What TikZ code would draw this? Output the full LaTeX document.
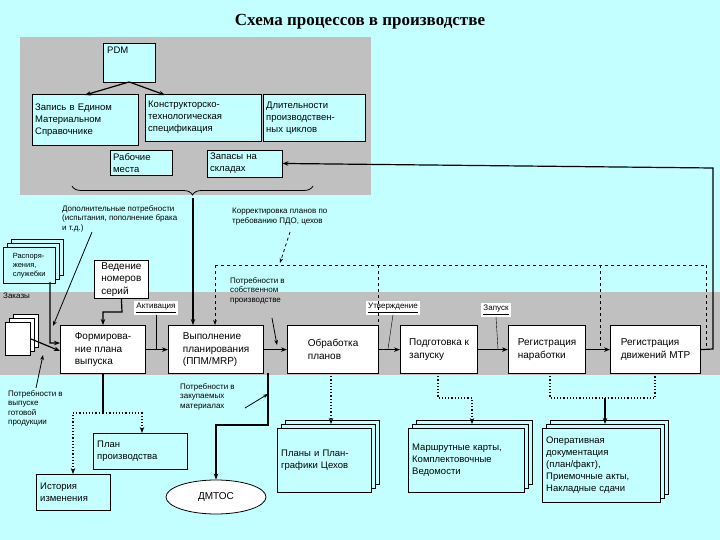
\documentclass[tikz,border=0pt]{standalone}
\usepackage{fontspec}
\setmainfont{Liberation Serif}
\newfontfamily\lblfont{Liberation Sans}
\usetikzlibrary{shapes.geometric,shadows,decorations.pathreplacing,arrows.meta}
\definecolor{cyanbg}{HTML}{C4FFFF}
\definecolor{panel}{HTML}{C0C0C0}
\tikzset{
  tbox/.style={draw, fill=cyanbg, align=left, inner sep=3pt, anchor=north west, font=\lblfont\fontsize{9.5}{12}\selectfont},
  wbox/.style={draw, very thick, fill=white, align=left, inner sep=4pt, anchor=north west, font=\lblfont\fontsize{10}{12.5}\selectfont},
  docs/.style={tbox, double copy shadow={shadow xshift=4pt, shadow yshift=4pt}},
  lbl/.style={align=left, inner sep=0pt, anchor=north west, font=\lblfont\fontsize{8}{9.5}\selectfont},
  flow/.style={very thick, -{Stealth[length=6pt]}},
  dflow/.style={very thick, dotted, -{Stealth[length=6pt]}},
  tag/.style={fill=white, inner sep=2pt, font=\lblfont\fontsize{8}{9.5}\selectfont}
}
\begin{document}
\begin{tikzpicture}[x=1pt, y=-1pt]
  \fill[cyanbg] (0,0) rectangle (720,540);
  \useasboundingbox (0,0) rectangle (720,540);
  \fill[panel] (20,37) rectangle (371,195);
  \fill[panel] (0,292) rectangle (720,375);
  \node[font=\bfseries\fontsize{17}{20}\selectfont] (title) at (360,22) {Схема процессов в производстве};

  % master data
  \node[tbox, text width=44pt, inner sep=4pt, text depth=24pt] (pdm) at (103,43) {PDM};
  \node[tbox, text width=100pt, minimum height=51pt] (zap) at (32,94) {Запись в Едином\\Материальном\\Справочнике};
  \node[tbox, text width=110pt, minimum height=47pt] (kts) at (145,94) {Конструкторско-\\технологическая\\спецификация};
  \node[tbox, text width=96pt, minimum height=47pt] (dlit) at (263,94) {Длительности\\производствен-\\ных циклов};
  \node[tbox, text width=56pt] (rab) at (110,150) {Рабочие\\места};
  \node[tbox, text width=69pt] (skl) at (207,150) {Запасы на\\складах};
  \draw[flow] (pdm.south) -- (85,95);
  \draw[flow] (pdm.south) -- (165,95);
  \draw[decorate, decoration={brace, amplitude=9pt, mirror}, thick] (72,186) -- (313,186);
  \coordinate (tip) at (193,198);

  % plan line
  \node[wbox, minimum width=85pt, minimum height=48pt] (form) at (60,325) {Формирова-\\ние плана\\выпуска};
  \node[wbox, minimum width=95pt, minimum height=48pt] (vyp) at (168,325) {Выполнение\\планирования\\(ППМ/MRP)};
  \node[wbox, minimum width=91pt, minimum height=48pt] (obr) at (287,325) {Обработка\\планов};
  \node[wbox, minimum width=77pt, minimum height=48pt] (podg) at (400,325) {Подготовка к\\запуску};
  \node[wbox, minimum width=77pt, minimum height=48pt] (nar) at (508,325) {Регистрация\\наработки};
  \node[wbox, minimum width=90pt, minimum height=48pt] (mtr) at (610,325) {Регистрация\\движений МТР};
  \node[wbox, thick, minimum width=54pt, minimum height=36pt, inner sep=2pt] (ved) at (94,260) {Ведение\\номеров\\серий};
  \node[docs, minimum width=52pt, minimum height=36pt, inner sep=1pt, font=\lblfont\fontsize{7.5}{9}\selectfont] (rasp) at (3,247) {Распоря-\\жения,\\служебки};
  \node[docs, fill=white, minimum width=25pt, minimum height=33pt] (zak) at (5,322) {};
  \node[lbl] (zakl) at (3,293) {Заказы};

  \draw[flow] (form) -- (vyp);
  \draw[flow] (vyp) -- (obr);
  \draw[flow] (obr) -- (podg);
  \draw[flow] (podg) -- (nar);
  \draw[flow] (nar) -- (mtr);
  \node[tag] (akt) at (156,308) {\underline{Активация}};
  \node[tag] (utv) at (393,308) {\underline{Утверждение}};
  \node[tag] (zap2) at (496,310) {\underline{Запуск}};
  \draw (akt.south) -- (156,349);
  \draw (utv.south) -- (388,349);
  \draw (zap2.south) -- (498,349);
  \draw[flow] (tip) -- (193,325);
  \draw[flow] (ved.south) -- (122,312) -- (103,312) -- (103,325);
  \draw[flow] (rasp.south) ++(20,0) coordinate (r0) -- (50,283) -- (50,343) -- (60,343);
  \draw[flow] (zak.east) -- (60,351);
  \draw[flow] (mtr.east) -- (713,349) -- (713,168) -- (skl.east);

  % labels
  \node[lbl] (dop) at (62,205) {Дополнительные потребности\\(испытания, пополнение брака\\и т.д.)};
  \node[lbl] (korr) at (232,208) {Корректировка планов по\\требованию ПДО, цехов};
  \node[lbl] (sobs) at (230,277) {Потребности в\\собственном\\производстве};
  \node[lbl] (zakup) at (180,383) {Потребности в\\закупаемых\\материалах};
  \node[lbl] (gotov) at (8,390) {Потребности в\\выпуске\\готовой\\продукции};
  \draw[thick, -{Stealth[length=5pt]}] (92,232) -- (53,326);
  \draw[thick, -{Stealth[length=5pt]}] (36,388) -- (43,355);
  \draw[thick, dashed, -{Stealth[length=5pt]}] (290,232) -- (280,263);
  \draw[thick, -{Stealth[length=5pt]}] (272,318) -- (277,345);
  \draw[thick, -{Stealth[length=5pt]}] (245,408) -- (268,394);

  % corrections
  \draw[dashed] (215,265) -- (706,265);
  \draw[thick, dashed, -{Stealth[length=5pt]}] (215,265) -- (215,325);
  \draw[thick, dashed] (378,265) -- (378,349);
  \draw[dashed] (600,265) -- (600,349);
  \draw[dashed] (706,265) -- (706,349);

  % outputs
  \node[tbox, text width=86pt, minimum height=36pt, inner sep=4pt] (plan) at (93,433) {План\\производства};
  \node[tbox, text width=66pt, minimum height=36pt, inner sep=4pt] (ist) at (36,474) {История\\изменения};
  \node[ellipse, draw, thick, fill=white, minimum width=100pt, minimum height=34pt, font=\lblfont\fontsize{10}{12}\selectfont] (dmtos) at (216,497) {ДМТОС};
  \node[docs, text width=86pt, minimum height=64pt, inner sep=4pt] (plg) at (277,428) {Планы и План-\\графики Цехов};
  \node[docs, text width=108pt, minimum height=64pt, inner sep=4pt] (mk) at (408,428) {Маршрутные карты,\\Комплектовочные\\Ведомости};
  \node[docs, text width=110pt, minimum height=74pt, inner sep=4pt] (oper) at (542,428) {Оперативная\\документация\\(план/факт),\\Приемочные акты,\\Накладные сдачи};

  \draw[very thick] (103,373) -- (103,413);
  \draw[dflow] (103,413) -- (73,413) -- (ist.north -| 73,0);
  \draw[dflow] (103,413) -- (142,413) -- (plan.north -| 142,0);
  \draw[flow] (268,373) -- (268,425) -- (216,425) -- (dmtos.north);
  \draw[dflow] (331,373) -- (331,424);
  \draw[dflow] (438,373) -- (438,398) -- (472,398) -- (472,424);
  \draw[very thick, dotted] (550,373) -- (550,398) -- (655,398) -- (655,373);
  \draw[flow] (605,398) -- (605,424);
\end{tikzpicture}
\end{document}
